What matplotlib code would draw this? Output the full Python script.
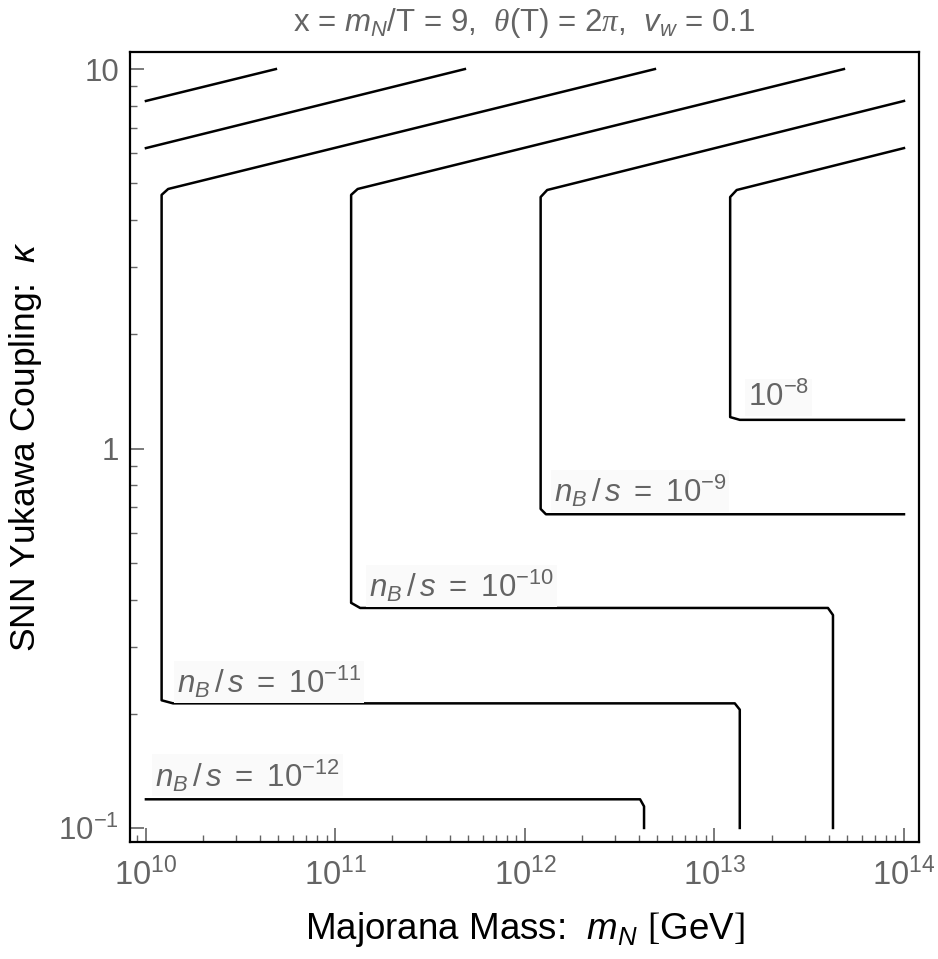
import numpy as np
import matplotlib
matplotlib.use("Agg")
import matplotlib.pyplot as plt
from matplotlib.ticker import FixedLocator, FixedFormatter, LogLocator, NullFormatter

plt.rcParams['font.family'] = ['Liberation Sans', 'DejaVu Sans']
plt.rcParams['mathtext.fontset'] = 'custom'
plt.rcParams['mathtext.rm'] = 'Liberation Sans'
plt.rcParams['mathtext.it'] = 'Liberation Sans:italic'
plt.rcParams['mathtext.cal'] = 'Liberation Serif:italic'
plt.rcParams['mathtext.sf'] = 'Liberation Serif'

# contour polylines: (m_N [GeV], kappa)
m_13 = [1.0e10, 4.85e10]
k_13 = [8.24, 10.0]

m_12_upper = [1.0e10, 4.82e11]
k_12_upper = [6.19, 10.0]

m_12 = [1.0e10, 4.05e12, 4.25e12, 4.25e12]
k_12 = [0.119, 0.119, 0.114, 0.1]

m_11 = [1.36e13, 1.36e13, 1.28e13, 1.39e10, 1.21e10, 1.21e10, 1.31e10, 4.85e12]
k_11 = [0.1, 0.205, 0.213, 0.213, 0.217, 4.66, 4.83, 10.0]

m_10 = [4.22e13, 4.22e13, 3.97e13, 1.35e11, 1.21e11, 1.21e11, 1.31e11, 4.82e13]
k_10 = [0.1, 0.364, 0.380, 0.380, 0.392, 4.66, 4.83, 10.0]

m_9 = [1.0e14, 1.29e12, 1.21e12, 1.21e12, 1.31e12, 1.0e14]
k_9 = [0.671, 0.671, 0.693, 4.6, 4.8, 8.24]

m_8 = [1.0e14, 1.36e13, 1.21e13, 1.21e13, 1.31e13, 1.0e14]
k_8 = [1.19, 1.19, 1.21, 4.6, 4.8, 6.19]

contours = [(m_13, k_13), (m_12_upper, k_12_upper), (m_12, k_12),
            (m_11, k_11), (m_10, k_10), (m_9, k_9), (m_8, k_8)]

# contour labels: text, position (m_N, kappa)
label_text = [r'$n_B\,/\,s\ =\ 10^{-12}$', r'$n_B\,/\,s\ =\ 10^{-11}$',
              r'$n_B\,/\,s\ =\ 10^{-10}$', r'$n_B\,/\,s\ =\ 10^{-9}$',
              r'$10^{-8}$']
label_m = [1.12e10, 1.45e10, 1.50e11, 1.42e12, 1.50e13]
label_k = [0.1375, 0.243, 0.435, 0.772, 1.36]

xticks = [1e10, 1e11, 1e12, 1e13, 1e14]
xticklabels = [r'$10^{10}$', r'$10^{11}$', r'$10^{12}$', r'$10^{13}$', r'$10^{14}$']
yticks = [0.1, 1, 10]
yticklabels = [r'$10^{-1}$', '1', '10']

gray = '#646464'

fig = plt.figure(figsize=(9.38, 9.59), dpi=100)
ax = fig.add_axes([0.1386, 0.122, 0.9797 - 0.1386, 0.9458 - 0.122])

for m, k in contours:
    ax.plot(m, k, color='black', lw=1.8, solid_joinstyle='round')

for t, x, y in zip(label_text, label_m, label_k):
    ax.text(x, y, t, fontsize=22.5, color=gray, ha='left', va='center',
            bbox=dict(facecolor='#fafafa', edgecolor='none', pad=2))

ax.set_xscale('log')
ax.set_yscale('log')
ax.set_xlim(10**9.916, 10**14.079)
ax.set_ylim(10**-1.037, 10**1.045)

ax.xaxis.set_major_locator(FixedLocator(xticks))
ax.xaxis.set_major_formatter(FixedFormatter(xticklabels))
ax.xaxis.set_minor_locator(LogLocator(base=10, subs=np.arange(2, 10)))
ax.xaxis.set_minor_formatter(NullFormatter())
ax.yaxis.set_major_locator(FixedLocator(yticks))
ax.yaxis.set_major_formatter(FixedFormatter(yticklabels))
ax.yaxis.set_minor_locator(LogLocator(base=10, subs=np.arange(2, 10)))
ax.yaxis.set_minor_formatter(NullFormatter())

ax.tick_params(which='both', direction='in', color=gray, labelcolor=gray,
               top=False, right=False)
ax.tick_params(axis='x', which='major', labelsize=23.5, pad=11)
ax.tick_params(axis='y', which='major', labelsize=22.5, pad=8)
ax.tick_params(which='major', length=10, width=1.2)
ax.tick_params(which='minor', length=5, width=1.0)

for s in ax.spines.values():
    s.set_linewidth(1.6)

ax.set_xlabel(r'Majorana Mass:  $m_N$ $\mathsf{[}$GeV$\mathsf{]}$', fontsize=26.5, labelpad=13)
ax.set_ylabel(r'SNN Yukawa Coupling:  $\kappa$', fontsize=25.5, labelpad=10)
ax.set_title(r'x = $m_N$/T = 9,  $\mathcal{\theta}$(T) = 2$\mathcal{\pi}$,  $v_w$ = 0.1',
             fontsize=22.5, color=gray, pad=15)

fig.savefig('out.png', dpi=100)
